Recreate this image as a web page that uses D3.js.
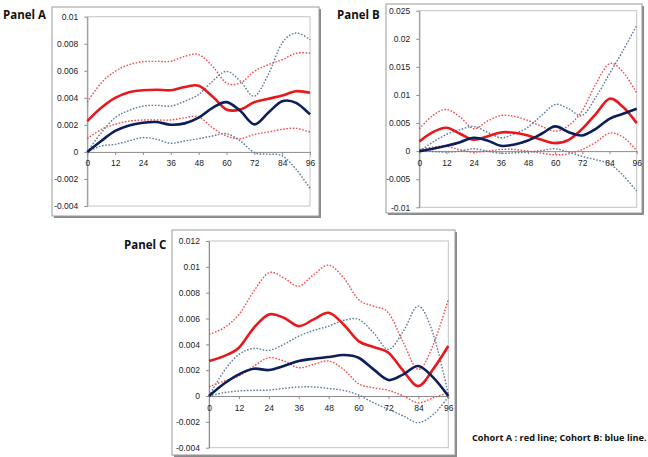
<!DOCTYPE html>
<html><head><meta charset="utf-8">
<script src="https://cdn.jsdelivr.net/npm/d3@7"></script>
<style>
body{margin:0;background:#fff;}
svg{display:block;}
.tick text{font-family:"Liberation Sans",Arial,sans-serif;font-size:8.5px;fill:#222;}
</style></head>
<body>
<svg id="chart" width="648" height="457"></svg>
<script>
// ---------- DATA ----------
const months = [0,6,12,18,24,30,36,42,48,54,60,66,72,78,84,90,96];
const xTicks = [0,12,24,36,48,60,72,84,96];

// Panel A
const yTicksA = [-0.004,-0.002,0,0.002,0.004,0.006,0.008,0.01];
const redMeanA  = [0.00228,0.00326,0.0040,0.00442,0.00456,0.0046,0.00456,0.0048,0.0049,0.0041,0.00314,0.00314,0.00368,0.00393,0.00417,0.00449,0.00437];
const redUpA    = [0.0037,0.0051,0.00596,0.00645,0.00667,0.0067,0.0067,0.00707,0.0072,0.00633,0.0051,0.0051,0.00596,0.00645,0.00682,0.0073,0.0073];
const redLoA    = [0.00098,0.00167,0.00204,0.00228,0.00236,0.00236,0.00236,0.00253,0.0026,0.00179,0.00118,0.00098,0.0013,0.00147,0.00167,0.00174,0.00147];
const blueMeanA = [0,0.00081,0.00155,0.00196,0.00216,0.00221,0.00201,0.00211,0.00253,0.00326,0.00368,0.00302,0.00204,0.0029,0.00375,0.00363,0.00277];
const blueUpA   = [0,0.00142,0.00253,0.00307,0.00339,0.00344,0.00339,0.00375,0.00425,0.00523,0.00596,0.00523,0.00412,0.00572,0.00805,0.00879,0.0083];
const blueLoA   = [0,0.00044,0.00056,0.00081,0.00106,0.00093,0.00064,0.00081,0.00098,0.00118,0.00135,0.00081,-0.00005,-0.00017,-0.00029,-0.00128,-0.0027];

// Panel B
const yTicksB = [-0.01,-0.005,0,0.005,0.01,0.015,0.02,0.025];
const redMeanB  = [0.00172,0.00338,0.00416,0.00309,0.00202,0.00261,0.00333,0.00327,0.00279,0.00202,0.00143,0.00202,0.00398,0.00665,0.00932,0.00784,0.00499];
const redUpB    = [0.00398,0.00635,0.00742,0.00606,0.00398,0.00534,0.00635,0.00618,0.00546,0.0044,0.00356,0.00457,0.00724,0.012,0.01556,0.01407,0.01033];
const redLoB    = [0.00024,0.00071,0.00083,0.00024,-0.00018,0,0.0003,0.0003,0,-0.00036,-0.00065,-0.00048,0.0003,0.0016,0.00321,0.00249,0.00012];
const blueMeanB = [0,0.00042,0.00095,0.0016,0.00238,0.0019,0.00095,0.00119,0.0019,0.00309,0.0044,0.00338,0.00279,0.00398,0.00576,0.00665,0.00754];
const blueUpB   = [0,0.0016,0.00297,0.0038,0.0044,0.00338,0.00238,0.00309,0.00428,0.00635,0.00831,0.00754,0.00635,0.00962,0.01378,0.01793,0.02239];
const blueLoB   = [0,-0.00006,-0.00018,0,0.00042,0,-0.00036,-0.0003,-0.00018,0.00012,0.00042,-0.00018,-0.00095,-0.00154,-0.00226,-0.00433,-0.00713];

// Panel C
const yTicksC = [-0.004,-0.002,0,0.002,0.004,0.006,0.008,0.01,0.012];
const redMeanC  = [0.00271,0.00309,0.00374,0.00528,0.00631,0.00606,0.00541,0.00593,0.00644,0.00554,0.00425,0.00379,0.00335,0.00193,0.00077,0.0021,0.00387];
const redUpC    = [0.00477,0.00528,0.00631,0.00812,0.00954,0.00915,0.0085,0.0094,0.01013,0.00915,0.00747,0.00696,0.00644,0.00412,0.00206,0.004,0.00747];
const redLoC    = [0.00072,0.00116,0.00155,0.00232,0.00296,0.00271,0.00219,0.00245,0.00271,0.00206,0.00095,0.00064,0.00044,0,-0.00052,-0.00013,0.00026];
const blueMeanC = [0,0.00095,0.00168,0.00211,0.00201,0.00232,0.00271,0.00289,0.00302,0.00317,0.00296,0.00206,0.00124,0.00168,0.00232,0.00142,0];
const blueUpC   = [0,0.00193,0.00322,0.00369,0.00353,0.004,0.00464,0.00508,0.00541,0.00585,0.00593,0.0049,0.00361,0.00503,0.00696,0.00477,0.00013];
const blueLoC   = [0,0.00026,0.00039,0.00044,0.00046,0.00059,0.0007,0.0007,0.00059,0.00044,0.00008,-0.00052,-0.00103,-0.00155,-0.00206,-0.00142,-0.00008];

const panelTitles = ["Panel A","Panel B","Panel C"];
const caption = "Cohort A : red line; Cohort B: blue line.";

// ---------- LAYOUT ----------
const panels = [
  {title:panelTitles[0], titleX:3, titleY:19, frame:[52,7,319,216], plot:[87.3,16.7,310,206], yTicks:yTicksA,
   series:[redUpA,redLoA,blueUpA,blueLoA,redMeanA,blueMeanA]},
  {title:panelTitles[1], titleX:337, titleY:19, frame:[386,4,642,213], plot:[419.3,10.7,636.7,207.3], yTicks:yTicksB,
   series:[redUpB,redLoB,blueUpB,blueLoB,redMeanB,blueMeanB]},
  {title:panelTitles[2], titleX:124, titleY:249, frame:[172,230,455,455], plot:[209,241,448.3,447.7], yTicks:yTicksC,
   series:[redUpC,redLoC,blueUpC,blueLoC,redMeanC,blueMeanC]}
];
const styles = [
  {stroke:"#ef4b4b", width:1.4, dash:"1.6,1.6"},
  {stroke:"#ef4b4b", width:1.4, dash:"1.6,1.6"},
  {stroke:"#5d7a9a", width:1.4, dash:"1.6,1.6"},
  {stroke:"#5d7a9a", width:1.4, dash:"1.6,1.6"},
  {stroke:"#e8191e", width:2.6, dash:null},
  {stroke:"#0c1f5a", width:2.6, dash:null}
];

const svg = d3.select("#chart");
const fmt = v => { const r = +v.toFixed(4); return r === 0 ? "0" : String(r); };

panels.forEach(p => {
  const g = svg.append("g");
  const [fx0,fy0,fx1,fy1] = p.frame;
  // frame with shadow
  g.append("rect").attr("x",fx0+2).attr("y",fy0+2).attr("width",fx1-fx0).attr("height",fy1-fy0)
    .attr("fill","#8a8a8a");
  g.append("rect").attr("x",fx0).attr("y",fy0).attr("width",fx1-fx0).attr("height",fy1-fy0)
    .attr("fill","#fff").attr("stroke","#9a9a9a").attr("stroke-width",1);

  svg.append("text").attr("x",p.titleX).attr("y",p.titleY)
    .attr("font-family","'Open Sans',sans-serif").attr("font-weight","bold").attr("font-size","11.5px")
    .attr("fill","#111").text(p.title);

  const [px0,py0,px1,py1] = p.plot;
  const yExt = d3.extent(p.yTicks);
  const x = d3.scaleLinear().domain([0,96]).range([px0,px1]);
  const y = d3.scaleLinear().domain(yExt).range([py1,py0]);

  // plot area border
  g.append("rect").attr("x",px0).attr("y",py0).attr("width",px1-px0).attr("height",py1-py0)
    .attr("fill","none").attr("stroke","#c4c4c4").attr("stroke-width",1);

  // y axis
  const ya = g.append("g").attr("transform",`translate(${px0},0)`)
    .call(d3.axisLeft(y).tickValues(p.yTicks).tickFormat(fmt).tickSize(3).tickSizeOuter(0).tickPadding(6));
  ya.select(".domain").attr("stroke","#8c8c8c");
  ya.selectAll(".tick line").attr("stroke","#8c8c8c");

  // x axis at zero
  const xa = g.append("g").attr("transform",`translate(0,${y(0)})`)
    .call(d3.axisBottom(x).tickValues(xTicks).tickFormat(d3.format("d")).tickSize(3).tickSizeOuter(0).tickPadding(5.5));
  xa.select(".domain").attr("stroke","#8c8c8c");
  xa.selectAll(".tick line").attr("stroke","#8c8c8c");

  const line = d3.line().x((d,i)=>x(months[i])).y(d=>y(d)).curve(d3.curveCardinal.tension(0));
  p.series.forEach((s,i) => {
    const st = styles[i];
    const path = g.append("path").datum(s).attr("d",line).attr("fill","none")
      .attr("stroke",st.stroke).attr("stroke-width",st.width).attr("stroke-linejoin","round");
    if (st.dash) path.attr("stroke-dasharray",st.dash);
  });
});

svg.append("text").attr("x",472).attr("y",441)
  .attr("font-family","'Open Sans',sans-serif").attr("font-weight","bold").attr("font-size","9.2px")
  .attr("fill","#111").text(caption);
</script>
</body></html>
